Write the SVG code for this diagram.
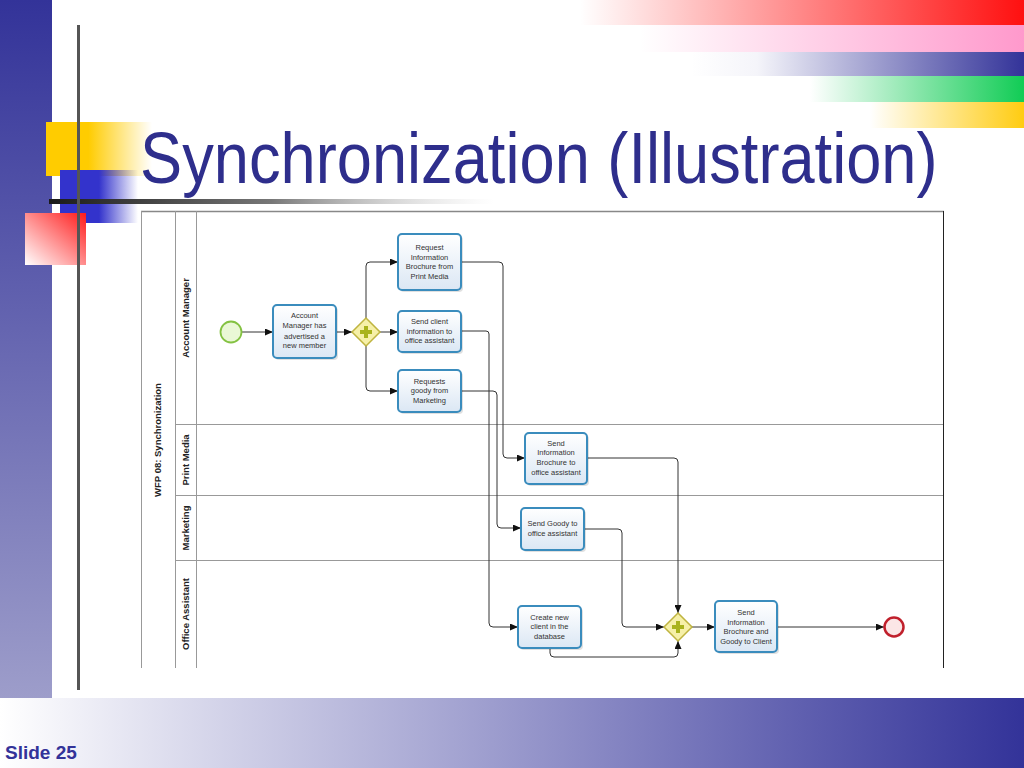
<svg xmlns="http://www.w3.org/2000/svg" width="1024" height="768" viewBox="0 0 1024 768">
<defs>
<linearGradient id="gLeft" x1="0" y1="0" x2="0" y2="1"><stop offset="0" stop-color="#333399"/><stop offset="1" stop-color="#9d9dca"/></linearGradient>
<linearGradient id="gBottom" x1="0" y1="0" x2="1" y2="0"><stop offset="0" stop-color="#ffffff"/><stop offset="1" stop-color="#333399"/></linearGradient>
<linearGradient id="gRed" x1="0" y1="0" x2="1" y2="0"><stop offset="0" stop-color="#ff1010" stop-opacity="0"/><stop offset="1" stop-color="#ff1010"/></linearGradient>
<linearGradient id="gPink" x1="0" y1="0" x2="1" y2="0"><stop offset="0" stop-color="#ff99cc" stop-opacity="0"/><stop offset="1" stop-color="#ff99cc"/></linearGradient>
<linearGradient id="gBlue" x1="0" y1="0" x2="1" y2="0"><stop offset="0" stop-color="#333399" stop-opacity="0"/><stop offset="0.2" stop-color="#333399" stop-opacity="0.05"/><stop offset="1" stop-color="#333399"/></linearGradient>
<linearGradient id="gGreen" x1="0" y1="0" x2="1" y2="0"><stop offset="0" stop-color="#11cc55" stop-opacity="0"/><stop offset="1" stop-color="#11cc55"/></linearGradient>
<linearGradient id="gYellow" x1="0" y1="0" x2="1" y2="0"><stop offset="0" stop-color="#ffcc11" stop-opacity="0"/><stop offset="1" stop-color="#ffcc11"/></linearGradient>
<linearGradient id="gYSq" x1="0" y1="0" x2="1" y2="0"><stop offset="0" stop-color="#ffcc00"/><stop offset="0.4" stop-color="#ffcc00"/><stop offset="1" stop-color="#ffcc00" stop-opacity="0"/></linearGradient>
<linearGradient id="gBSq" x1="0" y1="0" x2="1" y2="0"><stop offset="0" stop-color="#3333cc"/><stop offset="0.5" stop-color="#3333cc"/><stop offset="1" stop-color="#3333cc" stop-opacity="0"/></linearGradient>
<linearGradient id="gRSq" x1="0" y1="1" x2="1" y2="0"><stop offset="0" stop-color="#ffffff"/><stop offset="1" stop-color="#ff1a1a"/></linearGradient>
<linearGradient id="gLine" x1="0" y1="0" x2="1" y2="0"><stop offset="0" stop-color="#1a1a1a"/><stop offset="0.5" stop-color="#777777"/><stop offset="1" stop-color="#cccccc" stop-opacity="0"/></linearGradient>
<linearGradient id="gTask" x1="0" y1="0" x2="0" y2="1"><stop offset="0" stop-color="#ffffff"/><stop offset="1" stop-color="#dbe7f4"/></linearGradient>
<marker id="arr" markerWidth="8" markerHeight="7" refX="8" refY="3.5" orient="auto" markerUnits="userSpaceOnUse"><path d="M0,0 L8,3.5 L0,7 z" fill="#111"/></marker>
<style>
.task{fill:url(#gTask);stroke:#3a8cbd;stroke-width:2}
.shadow{fill:#000;opacity:0.12}
.tt{font-family:"Liberation Sans",Arial,sans-serif;font-size:7.5px;fill:#333;text-anchor:middle}
.lane{font-family:"Liberation Sans",Arial,sans-serif;font-size:9.5px;font-weight:bold;fill:#222;text-anchor:middle}
.pl{stroke:#999;stroke-width:1;fill:none}
.conn{stroke:#333;stroke-width:1;fill:none;marker-end:url(#arr)}
.gw{fill:#f6f0a8;stroke:#bfb440;stroke-width:1.5}
.plus{fill:#a9b31c}
</style>
</defs>

<rect width="1024" height="768" fill="#ffffff"/>
<!-- decorations -->
<rect x="0" y="0" width="52" height="698" fill="url(#gLeft)"/>
<rect x="0" y="698" width="1024" height="70" fill="url(#gBottom)"/>
<rect x="580" y="0" width="444" height="25" fill="url(#gRed)"/>
<rect x="640" y="25" width="384" height="27" fill="url(#gPink)"/>
<rect x="690" y="52" width="334" height="24" fill="url(#gBlue)"/>
<rect x="810" y="76" width="214" height="26" fill="url(#gGreen)"/>
<rect x="870" y="102" width="154" height="26" fill="url(#gYellow)"/>
<rect x="46" y="122" width="106" height="54" fill="url(#gYSq)"/>
<rect x="60" y="170" width="78" height="53" fill="url(#gBSq)"/>
<rect x="49" y="199" width="445" height="5" fill="url(#gLine)"/>
<rect x="25" y="213" width="61" height="52" fill="url(#gRSq)"/>
<rect x="77" y="25" width="3" height="665" fill="#555555"/>

<text transform="translate(140,183) scale(0.878,1)" font-family="'Liberation Sans',Arial,sans-serif" font-size="72" fill="#2e2e8c">Synchronization (Illustration)</text>
<text x="5" y="759" font-family="'Liberation Sans',Arial,sans-serif" font-size="19" font-weight="bold" fill="#333399">Slide 25</text>

<!-- pool -->
<g id="pool">
<line x1="141" y1="211.5" x2="944" y2="211.5" stroke="#888" stroke-width="1.5"/>
<line x1="141.5" y1="211" x2="141.5" y2="668" class="pl"/>
<line x1="943.5" y1="211" x2="943.5" y2="668" stroke="#222" stroke-width="1"/>
<line x1="175.5" y1="211" x2="175.5" y2="668" class="pl"/>
<line x1="196.5" y1="211" x2="196.5" y2="668" class="pl"/>
<line x1="175" y1="424.5" x2="943" y2="424.5" class="pl"/>
<line x1="175" y1="495.5" x2="943" y2="495.5" class="pl"/>
<line x1="175" y1="560.5" x2="943" y2="560.5" class="pl"/>
<text class="lane" transform="translate(161,440) rotate(-90)">WFP 08: Synchronization</text>
<text class="lane" transform="translate(189,318) rotate(-90)">Account Manager</text>
<text class="lane" transform="translate(189,460) rotate(-90)">Print Media</text>
<text class="lane" transform="translate(189,528) rotate(-90)">Marketing</text>
<text class="lane" transform="translate(189,614) rotate(-90)">Office Assistant</text>
</g>

<!-- connectors -->
<g id="connectors">
<path class="conn" d="M242,332 H273"/>
<path class="conn" d="M336,332 H352"/>
<path class="conn" d="M366,318 V266 Q366,262 370,262 H398"/>
<path class="conn" d="M380,332 H398"/>
<path class="conn" d="M366,346 V387 Q366,391 370,391 H398"/>
<path class="conn" d="M461,262 H499 Q503,262 503,266 V454 Q503,458 507,458 H525"/>
<path class="conn" d="M461,331 H486 Q489,331 489,334 V623 Q489,627 493,627 H518"/>
<path class="conn" d="M461,391 H493 Q497,391 497,395 V524 Q497,528 501,528 H521"/>
<path class="conn" d="M587,458 H674 Q678,458 678,462 V613"/>
<path class="conn" d="M584,529 H618 Q622,529 622,533 V623 Q622,627 626,627 H664"/>
<path class="conn" d="M550,648 V653 Q550,657 554,657 H674 Q678,657 678,653 V641"/>
<path class="conn" d="M692,627 H715"/>
<path class="conn" d="M777,627 H884"/>
</g>

<!-- nodes -->
<g id="start"><circle cx="231" cy="332" r="10.5" fill="#eaf8d6" stroke="#84c242" stroke-width="1.8"/></g>

<g id="t1">
<rect class="shadow" x="275" y="307" width="63" height="53" rx="4"/>
<rect class="task" x="273" y="305" width="63" height="53" rx="4"/>
<text class="tt"><tspan x="304.5" y="318">Account</tspan><tspan x="304.5" y="328">Manager has</tspan><tspan x="304.5" y="338.5">advertised a</tspan><tspan x="304.5" y="348">new member</tspan></text>
</g>

<g id="gw1">
<polygon class="gw" points="366,318 380,332 366,346 352,332"/>
<rect class="plus" x="364" y="326" width="4" height="12"/><rect class="plus" x="360" y="330" width="12" height="4"/>
</g>

<g id="t2">
<rect class="shadow" x="400" y="236" width="63" height="56" rx="4"/>
<rect class="task" x="398" y="234" width="63" height="56" rx="4"/>
<text class="tt"><tspan x="429.5" y="250">Request</tspan><tspan x="429.5" y="260">Information</tspan><tspan x="429.5" y="269">Brochure from</tspan><tspan x="429.5" y="279">Print Media</tspan></text>
</g>

<g id="t3">
<rect class="shadow" x="400" y="313" width="63" height="41" rx="4"/>
<rect class="task" x="398" y="311" width="63" height="41" rx="4"/>
<text class="tt"><tspan x="429.5" y="324">Send client</tspan><tspan x="429.5" y="334">information to</tspan><tspan x="429.5" y="343">office assistant</tspan></text>
</g>

<g id="t4">
<rect class="shadow" x="400" y="372" width="63" height="42" rx="4"/>
<rect class="task" x="398" y="370" width="63" height="42" rx="4"/>
<text class="tt"><tspan x="429.5" y="384">Requests</tspan><tspan x="429.5" y="393">goody from</tspan><tspan x="429.5" y="403">Marketing</tspan></text>
</g>

<g id="t5">
<rect class="shadow" x="527" y="435" width="62" height="51" rx="4"/>
<rect class="task" x="525" y="433" width="62" height="51" rx="4"/>
<text class="tt"><tspan x="556" y="446">Send</tspan><tspan x="556" y="455">Information</tspan><tspan x="556" y="465">Brochure to</tspan><tspan x="556" y="475">office assistant</tspan></text>
</g>

<g id="t6">
<rect class="shadow" x="523" y="510" width="63" height="42" rx="4"/>
<rect class="task" x="521" y="508" width="63" height="42" rx="4"/>
<text class="tt"><tspan x="552.5" y="526">Send Goody to</tspan><tspan x="552.5" y="536">office assistant</tspan></text>
</g>

<g id="t7">
<rect class="shadow" x="520" y="608" width="63" height="42" rx="4"/>
<rect class="task" x="518" y="606" width="63" height="42" rx="4"/>
<text class="tt"><tspan x="549.5" y="620">Create new</tspan><tspan x="549.5" y="629">client in the</tspan><tspan x="549.5" y="639">database</tspan></text>
</g>

<g id="gw2">
<polygon class="gw" points="678,613 692,627 678,641 664,627"/>
<rect class="plus" x="676" y="621" width="4" height="12"/><rect class="plus" x="672" y="625" width="12" height="4"/>
</g>

<g id="t8">
<rect class="shadow" x="717" y="603" width="62" height="51" rx="4"/>
<rect class="task" x="715" y="601" width="62" height="51" rx="4"/>
<text class="tt"><tspan x="746" y="615">Send</tspan><tspan x="746" y="625">Information</tspan><tspan x="746" y="634">Brochure and</tspan><tspan x="746" y="644">Goody to Client</tspan></text>
</g>

<g id="end"><circle cx="894" cy="627" r="9.5" fill="#fbe6e6" stroke="#c0202c" stroke-width="2.5"/></g>
</svg>
